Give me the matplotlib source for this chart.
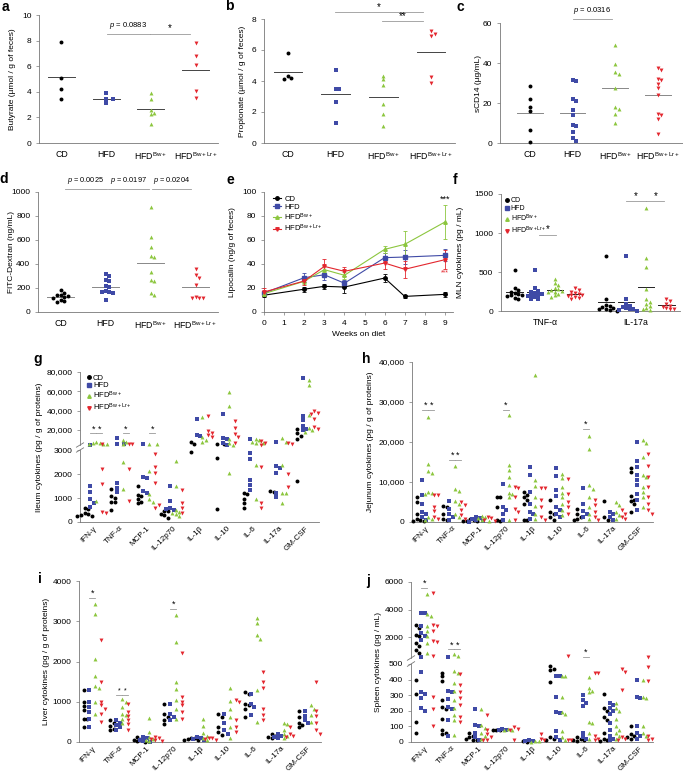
import numpy as np
import matplotlib.pyplot as plt
from matplotlib.lines import Line2D

plt.rcParams['font.family'] = ['Liberation Sans', 'DejaVu Sans']
plt.rcParams['mathtext.fontset'] = 'custom'
plt.rcParams['mathtext.rm'] = 'Liberation Sans'
plt.rcParams['mathtext.it'] = 'Liberation Sans:italic'
plt.rcParams['font.size'] = 6
plt.rcParams['axes.linewidth'] = 0.6
plt.rcParams['axes.edgecolor'] = '#777777'
plt.rcParams['xtick.color'] = '#777777'
plt.rcParams['ytick.color'] = '#777777'
plt.rcParams['xtick.labelcolor'] = 'black'
plt.rcParams['ytick.labelcolor'] = 'black'
plt.rcParams['xtick.major.size'] = 2
plt.rcParams['ytick.major.size'] = 2
plt.rcParams['xtick.major.width'] = 0.5
plt.rcParams['ytick.major.width'] = 0.5
plt.rcParams['xtick.labelsize'] = 6
plt.rcParams['ytick.labelsize'] = 6

GROUPS = ['CD', 'HFD', r'HFD$^{\mathrm{Bw+}}$', r'HFD$^{\mathrm{Bw+Lr+}}$']
COLORS = ['#000000', '#3f4aa6', '#8cc63e', '#e3262e']
MARKERS = ['o', 's', '^', 'v']
CYTOKINES = ['IFN-γ', 'TNF-α', 'MCP-1', 'IL-12p70', 'IL-1β', 'IL-10', 'IL-6', 'IL-17a', 'GM-CSF']

# --- a: butyrate
butyrate_cd = [7.9, 5.1, 4.2, 3.4]
butyrate_hfd = [3.9, 3.4, 3.4, 3.1]
butyrate_bw = [3.9, 3.4, 2.6, 2.35, 2.3, 1.45]
butyrate_bwlr = [7.8, 6.8, 6.1, 4.1, 3.55]

# --- b: propionate
propionate_cd = [5.8, 4.3, 4.2, 4.1]
propionate_hfd = [4.7, 3.5, 3.5, 2.65, 1.3]
propionate_bw = [4.35, 4.1, 3.75, 2.5, 1.9, 1.1]
propionate_bwlr = [7.2, 7.05, 6.9, 4.25, 3.9]

# --- c: sCD14
scd14_cd = [28.3, 21.8, 18, 15.8, 6.7, 0.3]
scd14_hfd = [31.3, 30.8, 22.2, 20.8, 16.7, 14.2, 9.2, 8.3, 5.5, 2.7, 1.0]
scd14_bw = [49.2, 39.7, 35.5, 34.3, 27.7, 18, 17.2, 14.7, 10]
scd14_bwlr = [37.5, 36.3, 32.2, 31.3, 29.7, 27.7, 24.2, 14.7, 13.8, 12.2, 4.7]

# --- d: FITC-dextran
fitc_cd = [185, 160, 145, 140, 130, 125, 115, 100, 90, 85]
fitc_hfd = [315, 300, 270, 255, 215, 210, 175, 170, 165, 160, 100]
fitc_bw = [875, 625, 540, 470, 455, 330, 265, 260, 155, 145]
fitc_bwlr = [355, 310, 280, 225, 125, 115, 115, 120]

# --- e: lipocalin over time
weeks = [0, 2, 3, 4, 6, 7, 9]
lipocalin_mean = [
    [14, 19, 21.4, 20.8, 28.3, 13, 14.7],
    [15.8, 28.6, 31, 24, 45.3, 45.8, 47.2],
    [15.3, 25.6, 35.3, 30.6, 52.2, 56.4, 75],
    [16.7, 25.8, 38, 33.9, 40.8, 35.6, 43.6],
]
lipocalin_err = [
    [1.5, 2, 2, 5, 3, 1.5, 2],
    [2, 4, 4, 3, 4, 6, 5],
    [2, 2, 3, 3, 3, 11, 14],
    [3, 3, 6, 4, 5, 7, 8],
]

# --- f: MLN cytokines (TNF-a, IL-17a)
mln_cd = [[520, 290, 270, 250, 230, 220, 210, 200, 190, 170, 150],
          [710, 160, 80, 60, 50, 40, 30, 20, 10, 5]]
mln_hfd = [[520, 290, 260, 250, 230, 220, 210, 200, 190, 180, 160, 150],
           [710, 160, 90, 70, 50, 40, 30, 20, 10, 5]]
mln_bw = [[410, 360, 330, 300, 280, 270, 260, 250, 240, 220, 200, 180],
          [1320, 680, 570, 280, 160, 120, 90, 60, 40, 20, 10]]
mln_bwlr = [[290, 270, 250, 230, 220, 210, 200, 190, 180, 170, 150],
            [160, 130, 90, 70, 50, 40, 30, 20]]

# --- g: ileum cytokines
ileum_cd = [[570, 560, 380, 340, 300, 260, 230], [1360, 1100, 1000, 850, 820, 500],
            [1500, 1125, 1080, 940, 850, 780], [470, 460, 330, 290, 150], [8000, 6000, 2920],
            [6000, 6000, 2650, 530], [1220, 1170, 940, 780, 570], [1290, 1260],
            [21000, 16500, 13700, 10600, 1690]]
ileum_hfd = [[5000, 1500, 1260, 940, 800, 640], [12000, 5400, 5400, 1610, 1430, 1260],
             [5400, 1860, 1850, 1300, 1190], [1510, 875, 570, 500, 540], [31500, 14800, 14100],
             [36700, 11300, 10600, 6100, 4800], [10300, 2890, 2625, 1750, 1540, 1330],
             [7800, 2330, 2230, 2060, 1220, 1030], [73800, 34600, 30400, 24200, 20700, 20000]]
ileum_bw = [[8000, 7000, 6500, 6000, 5500, 5500, 890], [10000, 8000, 6000, 2490, 1360],
            [5400, 5400, 2125, 1150, 940, 850], [2550, 1510, 500, 430, 360, 320, 260],
            [33200, 13000, 9600, 7800], [58900, 45000, 10600, 6100, 4800, 2060],
            [10300, 9600, 7800, 6800, 6100, 2360, 940], [11300, 7800, 2375, 1220, 1190, 800],
            [71400, 66900, 35600, 21700, 20000, 18300]]
ileum_bwlr = [[5400, 2190, 1580, 430, 390], [6000, 5400, 2190, 890],
              [2830, 2280, 2055, 1610, 600, 700], [1330, 780, 570, 360],
              [34600, 19300, 16500, 14800, 12400], [29700, 21700, 15800, 13000, 6100],
              [9000, 6100, 4800, 2280, 780, 570], [6100, 5400, 1990, 1440],
              [39800, 38100, 36700, 31800, 22800, 20700]]

# --- h: jejunum cytokines
jejunum_cd = [[6250, 5000, 2100, 830, 400, 250, 170], [3900, 3750, 2080, 830, 400],
              [700, 400, 300, 200, 150], [6250, 6250, 3750, 400, 250],
              [7500, 6830, 6250, 5580, 4420, 580, 400], [5420, 2500, 2080, 1250, 400],
              [3330, 2080, 1250, 830, 400], [5250, 1250, 400],
              [13600, 12500, 6420, 5580, 5170, 4580, 2500]]
jejunum_hfd = [[10400, 6670, 4580, 2500, 2080, 1250, 400], [5250, 3330, 2080, 1250, 400],
               [1300, 1000, 700, 400, 200, 100], [9600, 3750, 2920, 2100, 400],
               [13750, 11670, 7500, 4580, 2500, 2080, 830],
               [13500, 11400, 7900, 6500, 3750, 2900, 2080, 1250],
               [8500, 4580, 2750, 2080, 1250], [2500, 2080, 1250, 580],
               [20000, 15250, 13750, 11670, 10400, 9170, 7080, 5420, 2920]]
jejunum_bw = [[26250, 14400, 12750, 12250, 7500, 7250, 6900, 1250, 830, 400],
              [13900, 8170, 7750, 5170, 4580, 2080, 1250], [1600, 1200, 900, 600, 300],
              [26700, 14200, 12900, 11250, 9170, 7250, 6900, 6250, 400],
              [36700, 10400, 8900, 6250, 3900, 2080, 830],
              [12100, 11000, 8750, 7250, 6250, 4580, 2900, 1670],
              [21400, 18300, 9170, 8330, 6250, 3750, 2080, 830], [5000, 4170, 2500, 1670, 830],
              [20400, 19750, 16250, 11670, 11250, 8750, 7500, 6250, 3750]]
jejunum_bwlr = [[6670, 6670, 3750, 2750, 1250, 830], [5000, 4170, 2920, 1670, 830],
                [1200, 900, 500, 300], [8750, 8500, 6250, 3330, 2500, 400],
                [8500, 8500, 5420, 3750, 1250, 400], [10800, 6900, 5000, 3750, 2080],
                [5580, 4170, 2500, 1250, 580], [2920, 2080, 1250, 830],
                [17100, 13900, 11250, 8750, 6250, 4580, 2920, 2080]]

# --- i: liver cytokines
liver_cd = [[1290, 1000, 890, 790, 580, 560, 370], [540, 460, 390, 330, 290],
            [120, 80, 50, 30, 10], [950, 700, 620, 540, 440], [110, 90, 70, 50, 40],
            [700, 620, 370, 250, 170], [1245, 1200, 950, 910, 830, 620], [200, 150, 130, 100],
            [770, 620, 470, 415, 370]]
liver_hfd = [[1290, 1000, 870, 750, 580, 370], [540, 460, 415, 370, 290],
             [130, 90, 60, 30, 10], [950, 700, 620, 540], [120, 90, 70, 50],
             [700, 460, 290, 210], [1200, 950, 870, 660], [200, 160, 130, 100],
             [770, 640, 540, 460]]
liver_bw = [[3440, 3190, 2050, 1630, 1380, 1330, 1000, 700], [1080, 1000, 870, 700, 660, 580, 460],
            [600, 240, 120, 80, 40, 20], [3150, 2490, 1490, 1310, 1040, 810, 580],
            [580, 400, 220, 150, 100, 60], [1330, 1010, 830, 620, 370, 110],
            [3070, 2960, 2650, 2570, 1290, 500], [470, 450, 300, 200, 150, 100],
            [910, 830, 660, 500]]
liver_bwlr = [[2530, 1490, 1000, 910, 830, 700, 500], [940, 750, 640, 540, 440, 290],
              [130, 100, 70, 40, 20], [2220, 1120, 1000, 910, 750, 580], [110, 90, 70, 50],
              [1040, 1000, 540, 370, 250], [1740, 1490, 1330, 830, 660, 540],
              [380, 200, 150, 120], [1490, 770, 640, 460, 290, 210]]

# --- j: spleen cytokines
spleen_cd = [[2890, 2650, 2170, 2050, 1570, 1330, 1090, 850, 400, 310, 130, 60],
             [445, 420, 390, 270, 225, 210, 145, 75, 55, 50], [60, 40, 30, 20, 15, 10],
             [80, 78, 76], [5, 3], [490, 470, 460, 385, 30, 20, 10], [30, 20, 15, 10, 5],
             [305, 215, 200, 160, 140, 60, 20, 10, 5], [100, 50, 40, 30, 20]]
spleen_hfd = [[3770, 3720, 2770, 2290, 2050, 1810, 520, 450, 320, 310, 280, 215, 200],
              [520, 330, 320, 275, 225, 210, 140, 40], [210, 110, 100, 60, 30, 15],
              [82, 80, 78], [12, 8, 5], [425, 425, 290, 190, 185, 70, 30, 10],
              [300, 270, 250, 230, 60, 30, 20], [250, 240, 220, 200, 180, 120, 80, 40, 20, 10],
              [400, 290, 280, 100, 60, 40, 20]]
spleen_bw = [[5160, 3680, 3530, 2770, 2410, 2050, 1570, 850],
             [730, 610, 455, 445, 380, 330, 270, 215, 170, 140, 45], [210, 110, 90, 60, 40, 20],
             [82, 80, 78], [6, 4, 2], [425, 420, 290, 190, 180, 70, 30, 10],
             [415, 345, 330, 320, 130, 120, 60, 20], [250, 220, 200, 150, 100, 80, 60, 40, 20],
             [400, 290, 280, 100, 60, 40]]
spleen_bwlr = [[5210, 2890, 2770, 2410, 1690, 1620, 610, 290, 210, 100],
               [435, 365, 320, 280, 235, 160, 130], [175, 80, 50, 30, 15, 10], [95, 85, 75, 10],
               [50, 20, 10], [600, 15, 10], [445, 440, 40, 20, 10], [470, 450, 335, 30, 20, 10],
               [560, 480, 390, 40, 20, 10]]

W, H = 683, 775
fig = plt.figure(figsize=(W / 100, H / 100), dpi=100)
OFFS = [-0.33, -0.11, 0.11, 0.33]


def px_ax(l, t, r, b):
    ax = fig.add_axes([l / W, 1 - b / H, (r - l) / W, (b - t) / H])
    ax.spines['top'].set_visible(False)
    ax.spines['right'].set_visible(False)
    ax.patch.set_alpha(0)
    return ax


def swarm_x(ax, x0, vals, d=3.6):
    # spread overlapping points sideways (beeswarm)
    tr = ax.transData
    placed, xs = [], []
    for v in vals:
        px, py = tr.transform((x0, v))
        k = 0
        while True:
            off = ((k + 1) // 2) * d * (1 if k % 2 == 1 else -1)
            if all((px + off - qx) ** 2 + (py - qy) ** 2 >= d * d for qx, qy in placed):
                break
            k += 1
        placed.append((px + off, py))
        xs.append(tr.inverted().transform((px + off, py))[0])
    return xs


def dots(ax, x0, vals, gi, s=8):
    xs = swarm_x(ax, x0, vals)
    ax.scatter(xs, vals, s=s, marker=MARKERS[gi], color=COLORS[gi], linewidths=0,
               zorder=3, clip_on=False)


def sig(ax, x1, x2, y, text, fs=6, dy=0):
    ax.plot([x1, x2], [y, y], color='#999999', lw=0.6, clip_on=False)
    ax.text((x1 + x2) / 2, y + dy, text, ha='center', va='bottom', fontsize=fs, clip_on=False)


def ylab(x, y, text):
    fig.text(x / W, 1 - y / H, text, rotation=90, ha='center', va='center', fontsize=6)


def letter(x, y, t):
    fig.text(x / W, 1 - y / H, t, fontsize=10, fontweight='bold', ha='center', va='center')


def dot_panel(ax, groups, line_col, ylim, yticks):
    ax.set_xlim(0.5, 4.5)
    ax.set_ylim(*ylim)
    ax.set_yticks(yticks)
    for gi, vals in enumerate(groups):
        dots(ax, gi + 1, vals, gi)
        m = np.mean(vals)
        ax.plot([gi + 0.7, gi + 1.3], [m, m], color=line_col, lw=0.7, zorder=2)
    ax.set_xticks([1, 2, 3, 4])
    ax.set_xticklabels(GROUPS, fontsize=6.3)
    ax.tick_params(axis='x', length=0, pad=5)


# a
ax = px_ax(39, 15, 218, 143)
dot_panel(ax, [butyrate_cd, butyrate_hfd, butyrate_bw, butyrate_bwlr], '#444444', (0, 10), [0, 2, 4, 6, 8, 10])
sig(ax, 2.02, 2.98, 8.55, r'$p$ = 0.0883', fs=5.5, dy=0.2)
sig(ax, 2.98, 3.87, 8.55, '*', fs=7)
ylab(13, 79, 'Butyrate (µmol / g of feces)')
letter(5, 7, 'a')

# b
ax = px_ax(264, 19, 455, 143)
dot_panel(ax, [propionate_cd, propionate_hfd, propionate_bw, propionate_bwlr], '#444444', (0, 8), [0, 2, 4, 6, 8])
sig(ax, 1.99, 3.83, 8.45, '*', fs=7)
sig(ax, 2.97, 3.83, 7.85, '**', fs=7)
ylab(243, 81, 'Propionate (µmol / g of feces)')
letter(229, 6, 'b')

# c
ax = px_ax(500, 23, 683, 143)
dot_panel(ax, [scd14_cd, scd14_hfd, scd14_bw, scd14_bwlr], '#888888', (0, 60), [0, 20, 40, 60])
ax.set_xlim(0.3, 4.59)
sig(ax, 2.0, 2.93, 62, r'$p$ = 0.0316', fs=5.5, dy=1.5)
ylab(478, 83, 'sCD14 (µg/mL)')
letter(460, 7, 'c')

# d
ax = px_ax(38, 192, 218, 312)
dot_panel(ax, [fitc_cd, fitc_hfd, fitc_bw, fitc_bwlr], '#888888', (0, 1000), [0, 200, 400, 600, 800, 1000])
sig(ax, 1.1, 2.03, 1022, r'$p$ = 0.0025', fs=5.3, dy=25)
sig(ax, 2.06, 2.97, 1022, r'$p$ = 0.0197', fs=5.3, dy=25)
sig(ax, 3.04, 3.9, 1022, r'$p$ = 0.0204', fs=5.3, dy=25)
ylab(12, 252, 'FITC-Dextran (ng/mL)')
letter(4, 179, 'd')

# e
ax = px_ax(264, 192, 453, 312)
for gi in range(4):
    ax.errorbar(weeks, lipocalin_mean[gi], yerr=lipocalin_err[gi], color=COLORS[gi],
                marker=MARKERS[gi], ms=2.5, lw=0.8, elinewidth=0.6, capsize=1.5,
                capthick=0.6, clip_on=False, zorder=3)
ax.set_xlim(0, 9.4)
ax.set_ylim(0, 100)
ax.set_xticks(range(10))
ax.set_yticks([0, 20, 40, 60, 80, 100])
ax.set_xlabel('Weeks on diet', fontsize=6, labelpad=3)
ax.text(9, 90, '***', ha='center', va='bottom', fontsize=6.5)
ax.text(9, 30, '***', ha='center', va='bottom', fontsize=5, color=COLORS[3])
handles = [Line2D([], [], color=COLORS[i], marker=MARKERS[i], ms=2.5, lw=0.8) for i in range(4)]
ax.legend(handles, GROUPS, loc='upper left', bbox_to_anchor=(0.03, 1.0), frameon=False,
          fontsize=5.5, handlelength=1.0, handletextpad=0.4, labelspacing=0.05, borderpad=0)
ylab(233, 252, 'Lipocalin (ng/g of feces)')
letter(230, 180, 'e')

# f
ax = px_ax(501, 194, 680, 311)
ax.set_xlim(-0.48, 1.48)
ax.set_ylim(0, 1500)
ax.set_yticks([0, 500, 1000, 1500])
for gi, grp in enumerate([mln_cd, mln_hfd, mln_bw, mln_bwlr]):
    for ci, vals in enumerate(grp):
        x0 = ci + OFFS[gi]
        dots(ax, x0, vals, gi)
        m = np.mean(vals)
        ax.plot([x0 - 0.09, x0 + 0.09], [m, m], color='#222222', lw=0.7, zorder=2)
ax.set_xticks([0, 1])
ax.set_xticklabels(['TNF-α', 'IL-17a'], fontsize=6.3)
ax.tick_params(axis='x', length=0, pad=5)
sig(ax, -0.06, 0.12, 980, '*', fs=7)
sig(ax, 0.89, 1.11, 1410, '*', fs=7)
sig(ax, 1.11, 1.31, 1410, '*', fs=7)
handles = [Line2D([], [], color=COLORS[i], marker=MARKERS[i], ms=2.5, lw=0) for i in range(4)]
ax.legend(handles, GROUPS, loc='upper left', bbox_to_anchor=(0.0, 1.0), frameon=False,
          fontsize=5, handlelength=0.6, handletextpad=0.3, labelspacing=0.1, borderpad=0)
ylab(460, 252, 'MLN cytokines (pg / mL)')
letter(455, 180, 'f')


def cyto_axes(l, r, parts):
    # parts: list of (top, bottom, ylim, yticks, ticklabels, lo, hi) from top to bottom
    out = []
    for k, (t, b, ylim, yt, ytl, lo, hi) in enumerate(parts):
        ax = px_ax(l, t, r, b)
        ax.set_xlim(-0.5, 8.5)
        ax.set_ylim(*ylim)
        ax.set_yticks(yt)
        ax.set_yticklabels(ytl)
        if k < len(parts) - 1:
            ax.spines['bottom'].set_visible(False)
            ax.set_xticks([])
        else:
            ax.set_xticks(range(9))
            ax.set_xticklabels(CYTOKINES, rotation=45, ha='right', rotation_mode='anchor', fontsize=5.8)
            ax.tick_params(axis='x', length=0, pad=2)
        out.append((ax, lo, hi))
    return out


def cyto_points(axes, groups):
    for gi, grp in enumerate(groups):
        for ci, vals in enumerate(grp):
            x0 = ci + OFFS[gi]
            for ax, lo, hi in axes:
                sub = [v for v in vals if lo < v <= hi]
                if sub:
                    dots(ax, x0, sub, gi)


def brk(ax_up, ax_low):
    for a, y in [(ax_up, 0), (ax_low, 1)]:
        a.plot([-0.015, 0.015], [y - 0.03, y + 0.03], transform=a.transAxes, color='#777777',
               lw=0.6, clip_on=False)


# g
g_axes = cyto_axes(80, 319, [
    (372, 445, (4500, 80000), [20000, 40000, 60000, 80000], ['20,000', '40,000', '60,000', '80,000'], 3000, 1e9),
    (450, 522, (0, 3000), [0, 1000, 2000, 3000], ['0', '1000', '2000', '3000'], -1, 3000),
])
cyto_points(g_axes, [ileum_cd, ileum_hfd, ileum_bw, ileum_bwlr])
brk(g_axes[0][0], g_axes[1][0])
gu = g_axes[0][0]
sig(gu, -0.11, 0.11, 16500, '*', fs=6.5)
sig(gu, 0.11, 0.33, 16500, '*', fs=6.5)
sig(gu, 1.11, 1.33, 16500, '*', fs=6.5)
sig(gu, 2.11, 2.33, 16500, '*', fs=6.5)
handles = [Line2D([], [], color=COLORS[i], marker=MARKERS[i], ms=2.5, lw=0) for i in range(4)]
gu.legend(handles, GROUPS, loc='upper left', bbox_to_anchor=(0.01, 1.02), frameon=False,
          fontsize=5.5, handlelength=0.6, handletextpad=0.3, labelspacing=0.05, borderpad=0)
ylab(40, 447, 'Ileum cytokines (pg / g of proteins)')
letter(38, 359, 'g')

# h
h_axes = cyto_axes(412, 653, [
    (362, 522, (0, 40000), [0, 10000, 20000, 30000, 40000], ['0', '10,000', '20,000', '30,000', '40,000'], -1, 1e9),
])
cyto_points(h_axes, [jejunum_cd, jejunum_hfd, jejunum_bw, jejunum_bwlr])
hx = h_axes[0][0]
sig(hx, -0.11, 0.11, 28000, '*', fs=6.5)
sig(hx, 0.11, 0.33, 28000, '*', fs=6.5)
sig(hx, 0.89, 1.11, 15500, '*', fs=6.5)
sig(hx, 1.11, 1.33, 15500, '*', fs=6.5)
sig(hx, 2.89, 3.11, 28000, '*', fs=6.5)
sig(hx, 5.89, 6.11, 23200, '*', fs=6.5)
ylab(371, 442, 'Jejunum cytokines (pg / g of proteins)')
letter(366, 359, 'h')

# i
i_axes = cyto_axes(79, 321, [
    (581, 742, (0, 4000), [0, 1000, 2000, 3000, 4000], ['0', '1000', '2000', '3000', '4000'], -1, 1e9),
])
cyto_points(i_axes, [liver_cd, liver_hfd, liver_bw, liver_bwlr])
ix = i_axes[0][0]
sig(ix, -0.11, 0.11, 3580, '*', fs=6.5)
sig(ix, 0.89, 1.11, 1180, '*', fs=5)
sig(ix, 1.11, 1.33, 1180, '*', fs=5)
sig(ix, 2.89, 3.11, 3300, '*', fs=6.5)
ylab(47, 661, 'Liver cytokines (pg / g of proteins)')
letter(40, 579, 'i')

# j
j_axes = cyto_axes(411, 653, [
    (582, 658, (473, 6000), [2000, 4000, 6000], ['2000', '4000', '6000'], 500, 1e9),
    (664, 742, (0, 500), [0, 100, 200, 300, 400, 500], ['0', '100', '200', '300', '400', '500'], -1, 500),
])
cyto_points(j_axes, [spleen_cd, spleen_hfd, spleen_bw, spleen_bwlr])
brk(j_axes[0][0], j_axes[1][0])
ju = j_axes[0][0]
sig(ju, -0.11, 0.11, 5550, '*', fs=6.5)
sig(ju, 0.89, 1.11, 1100, '*', fs=6.5)
sig(ju, 1.11, 1.33, 1100, '*', fs=6.5)
sig(ju, 5.89, 6.11, 560, '*', fs=6.5)
ylab(378, 662, 'Spleen cytokines (pg / mL)')
letter(368, 581, 'j')

fig.savefig('out.png', dpi=100)
